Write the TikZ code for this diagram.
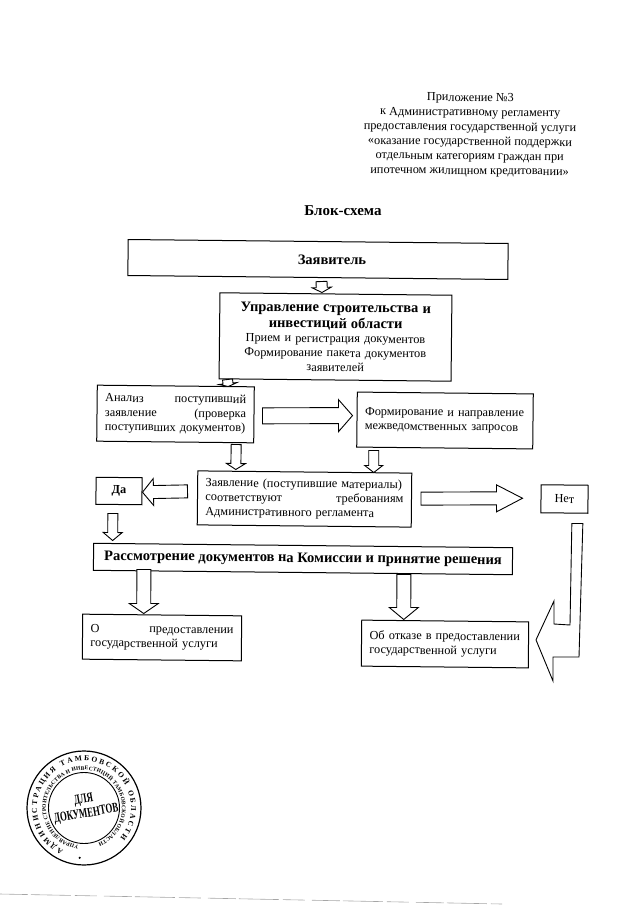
\documentclass[tikz,border=0pt]{standalone}
\usepackage{fontspec}
\usepackage{graphicx}
\setmainfont{Liberation Serif}
\usepackage{tikz}
\usetikzlibrary{calc,decorations.text}

\tikzset{
  box/.style={draw, line width=1pt, rotate=-0.6, inner xsep=8pt, inner ysep=0pt, align=left,
    font=\fontsize{12.3}{14.4}\selectfont},
  smallbox/.style={box, inner xsep=0pt, align=center},
  headbox/.style={box, align=center},
  boldbox/.style={box, inner xsep=0pt, align=center, font=\fontsize{14.5}{16}\selectfont\bfseries},
  blockline/.style={line width=0.9pt, fill=white, line join=miter}
}

% from, to, half shaft, half head, head length
\newcommand{\blockarrow}[5]{%
  \coordinate (arrowstart) at (#1);
  \coordinate (arrowtip) at (#2);
  \coordinate (arrowbase) at ($(arrowtip)!#5!(arrowstart)$);
  \draw[blockline] ($(arrowstart)!#3!90:(arrowtip)$) -- ($(arrowbase)!#3!90:(arrowtip)$)
    -- ($(arrowbase)!#4!90:(arrowtip)$) -- (arrowtip) -- ($(arrowbase)!#4!-90:(arrowtip)$)
    -- ($(arrowbase)!#3!-90:(arrowtip)$) -- ($(arrowstart)!#3!-90:(arrowtip)$) -- cycle;
}
\newcommand{\spreadline}[2]{\leavevmode\hbox to \hsize{#1\hfill #2}\par}
\newcommand{\fitline}[1]{\leavevmode\hbox to \hsize{#1}\par}

\begin{document}
\begin{tikzpicture}[x=1pt, y=-1pt]
  \useasboundingbox (0,0) rectangle (640,905);

  % Header
  \node[font=\fontsize{12.3}{14.6}\selectfont, align=center, rotate=-0.6] (annex) at (470,135) {Приложение №3\\
    к Административному регламенту\\
    предоставления государственной услуги\\
    «оказание государственной поддержки\\
    отдельным категориям граждан при\\
    ипотечном жилищном кредитовании»};
  \node[font=\fontsize{15}{17}\selectfont\bfseries] (title) at (343,211) {Блок-схема};

  % Boxes
  \node[boldbox, minimum width=380pt, minimum height=36pt] (applicant) at (318,259.5) {\hspace*{28pt}Заявитель};
  \node[headbox, minimum width=232pt, minimum height=86pt, text width=216pt] (dept) at (335.5,337)
    {{\fontsize{14.5}{16}\selectfont\bfseries Управление строительства и\\ инвестиций области\\}
     Прием и регистрация документов\\ Формирование пакета документов\\ заявителей};
  \node[box, minimum width=157pt, minimum height=56pt, text width=141pt] (analysis) at (175.5,414)
    {\spreadline{Анализ}{поступивший}\spreadline{заявление}{(проверка}\fitline{поступивших документов)}};
  \node[box, minimum width=176pt, minimum height=55pt, text width=160pt] (queries) at (445,420.5)
    {\fitline{Формирование и направление}\fitline{межведомственных запросов}\vspace*{18pt}};
  \node[box, minimum width=214pt, minimum height=54pt, text width=198pt] (statement) at (304.5,499)
    {\fitline{Заявление (поступившие материалы)}\spreadline{соответствуют}{требованиям}\fitline{Административного регламента}};
  \node[smallbox, minimum width=46pt, minimum height=27pt] (yes) at (119,491) {\textbf{Да}};
  \node[smallbox, minimum width=47pt, minimum height=28pt] (no) at (564.5,499) {Нет};
  \node[boldbox, minimum width=419pt, minimum height=27pt] (review) at (303,559)
    {Рассмотрение документов на Комиссии и принятие решения};
  \node[box, minimum width=159pt, minimum height=45pt, text width=143pt] (grant) at (162,637.5)
    {\spreadline{О}{предоставлении}\fitline{государственной услуги}};
  \node[box, minimum width=167pt, minimum height=46pt, text width=151pt] (refusal) at (445,644)
    {\fitline{Об отказе в предоставлении}\fitline{государственной услуги}\vspace*{8pt}};

  % Block arrows
  \blockarrow{$(applicant.south)+(3.7,3.5)$}{$(dept.north)+(-14,-1)$}{5.5pt}{9.5pt}{5pt}
  \blockarrow{$(dept.south)+(-107.5,-1)$}{$(analysis.north)+(52.5,1)$}{5pt}{9pt}{3pt}
  \blockarrow{$(analysis.east)+(8,1)$}{$(queries.west)+(-4,-4)$}{8pt}{16pt}{14pt}
  \blockarrow{$(analysis.south)+(61,2)$}{$(statement.north)+(-69,-2)$}{5pt}{9.5pt}{6pt}
  \blockarrow{$(queries.south)+(-71,2)$}{$(statement.north)+(69,1)$}{5pt}{9pt}{7pt}
  \blockarrow{$(statement.west)+(-9.5,-6.5)$}{$(yes.east)+(0,1)$}{6.5pt}{13.5pt}{11pt}
  \blockarrow{$(statement.east)+(9,-1.5)$}{$(no.west)+(-18,-0.5)$}{6.5pt}{13.5pt}{26pt}
  \blockarrow{$(yes.south)+(-6,8.5)$}{$(review.north)+(-190.5,-4.5)$}{5pt}{9.5pt}{8pt}
  \blockarrow{$(review.south)+(-159,-3.5)$}{$(grant.north)+(-18.5,-1)$}{7pt}{14.5pt}{10pt}
  \blockarrow{$(review.south)+(101,1.5)$}{$(refusal.north)+(-41.5,-1)$}{7pt}{14.5pt}{12pt}
  \draw[blockline] ($(no.south)+(7.5,10)$) -- ($(no.south)+(18.5,10)$) -- (579,657) -- (553,657) -- (553,681)
    -- ($(refusal.east)+(7,-5)$) -- (554,601) -- (554,624) -- (570,625) -- cycle;

  % Stamp
  \coordinate (stamp) at (84,808);
  \draw[line width=1.2pt] (stamp) circle (57pt);
  \draw[line width=0.9pt] (stamp) circle (35.5pt);
  \path[decorate, decoration={text along path, text align={fit to path},
      text={|\fontsize{7.5}{8}\selectfont\bfseries|АДМИНИСТРАЦИЯ ТАМБОВСКОЙ ОБЛАСТИ}}]
    ($(stamp)+(244:47pt)$) arc[start angle=244, end angle=-40, radius=47pt];
  \path[decorate, decoration={text along path, text align={fit to path},
      text={|\fontsize{5.5}{6}\selectfont\bfseries|УПРАВЛЕНИЕ СТРОИТЕЛЬСТВА И ИНВЕСТИЦИЙ ТАМБОВСКОЙ ОБЛАСТИ}}]
    ($(stamp)+(262:38pt)$) arc[start angle=262, end angle=-68, radius=38pt];
  \fill ($(stamp)+(265:50pt)$) circle (1.2pt);
  \node[rotate=10, align=center, inner sep=0pt, font=\fontsize{13.5}{15}\selectfont\bfseries] (stamptext) at (85,807)
    {\scalebox{.65}[1]{ДЛЯ}\\ \scalebox{.65}[1]{ДОКУМЕНТОВ}};

  % Scan edge
  \draw[gray!70, line width=0.6pt, dash pattern=on 28pt off 3pt on 40pt off 4pt on 22pt off 7pt]
    (0,894) -- (502,904);
\end{tikzpicture}
\end{document}
